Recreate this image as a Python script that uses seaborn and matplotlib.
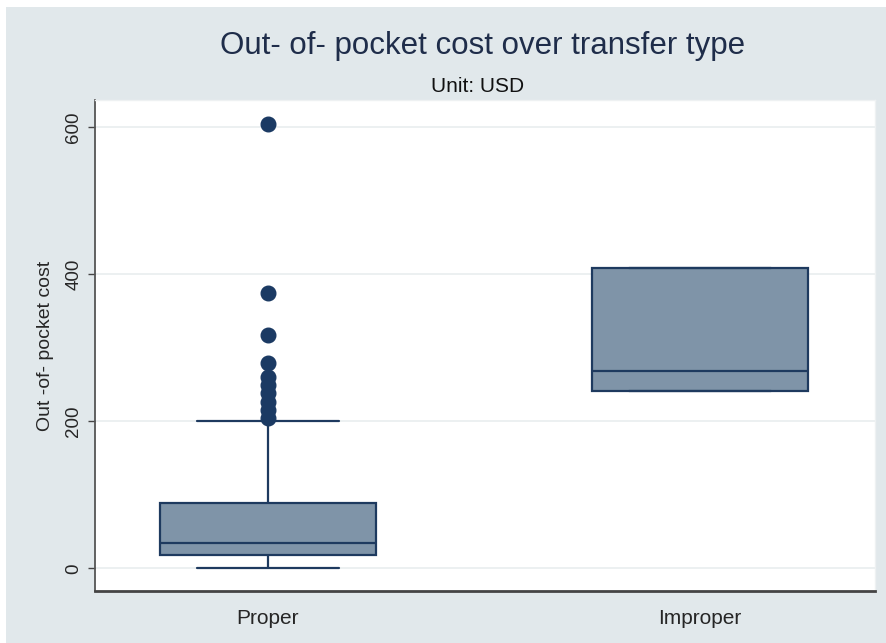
import matplotlib
matplotlib.use("Agg")
import matplotlib.pyplot as plt
from matplotlib.patches import Rectangle
import numpy as np
import pandas as pd
import seaborn as sns

# ---- data ----
categories = ["Proper", "Improper"]
proper_costs = [0, 1, 3, 5, 7, 9, 10, 12, 13, 15, 16, 17,
                18,
                20, 21, 23, 24, 25, 27, 28, 29, 30, 31, 33,
                34,
                38, 41, 45, 49, 53, 57, 62, 67, 72, 78, 84,
                89,
                150, 200, 204, 215, 226, 238, 249, 260, 279, 317, 375, 604]
improper_costs = [242, 242, 269, 408, 408]
y_ticks = [0, 200, 400, 600]
title = "Out- of- pocket cost over transfer type"
subtitle = "Unit: USD"
y_label = "Out -of- pocket cost"

df = pd.DataFrame({
    "type": ["Proper"] * len(proper_costs) + ["Improper"] * len(improper_costs),
    "cost": proper_costs + improper_costs,
})

sns.set_style("white")
plt.rcParams["font.family"] = ["Liberation Sans", "DejaVu Sans"]

W, H = 887, 643
fig = plt.figure(figsize=(W / 100, H / 100), dpi=100, facecolor="white")
fig.patches.append(Rectangle((6 / W, 0), 1 - 6 / W, 1 - 7 / H, transform=fig.transFigure,
                             facecolor="#e1e8eb", edgecolor="none", zorder=-10))

ax = fig.add_axes([95 / W, (H - 591) / H, 780 / W, (591 - 100) / H])
ax.set_facecolor("white")

box_fill = "#7f94a8"
navy = "#1e3a5f"
sns.boxplot(data=df, x="type", y="cost", order=categories, ax=ax,
            width=0.5, whis=1.6, color=box_fill, saturation=1,
            linecolor=navy, linewidth=1.6,
            flierprops=dict(marker="o", markerfacecolor="#1b3a63",
                            markeredgecolor="#1b3a63", markersize=10.5))

# widen caps to ~2/3 of box width (Stata style)
for cont in ax.containers:
    for cap in getattr(cont, "caps", []):
        xd = np.asarray(cap.get_xdata(), dtype=float)
        c = xd.mean()
        cap.set_xdata([c - 0.165, c + 0.165])

ax.set_xlim(-0.4, 1.405)
ax.set_ylim(-30.6, 637)
ax.set_yticks(y_ticks)
ax.set_yticklabels([str(t) for t in y_ticks], rotation=90, va="center", fontsize=13.5)
ax.tick_params(axis="x", labelsize=15, length=0, pad=13)
ax.tick_params(axis="y", length=5, width=1, color="#444444", left=True, pad=4)
ax.set_xlabel("")
ax.set_ylabel(y_label, fontsize=14, labelpad=8)
ax.yaxis.grid(True, color="#e9edef", linewidth=1.2)
ax.set_axisbelow(True)

for s in ["top", "right"]:
    ax.spines[s].set_visible(True)
    ax.spines[s].set_color("#eef1f2")
    ax.spines[s].set_linewidth(1)
ax.spines["left"].set_color("#555555")
ax.spines["left"].set_linewidth(1.3)
ax.spines["bottom"].set_color("#444444")
ax.spines["bottom"].set_linewidth(2)

fig.text(483 / W, 1 - 46 / H, title, ha="center", va="center",
         fontsize=22.5, color="#1f2d4a")
fig.text(478 / W, 1 - 86 / H, subtitle, ha="center", va="center",
         fontsize=15, color="#111111")

fig.savefig("out.png", dpi=100, facecolor="white")
